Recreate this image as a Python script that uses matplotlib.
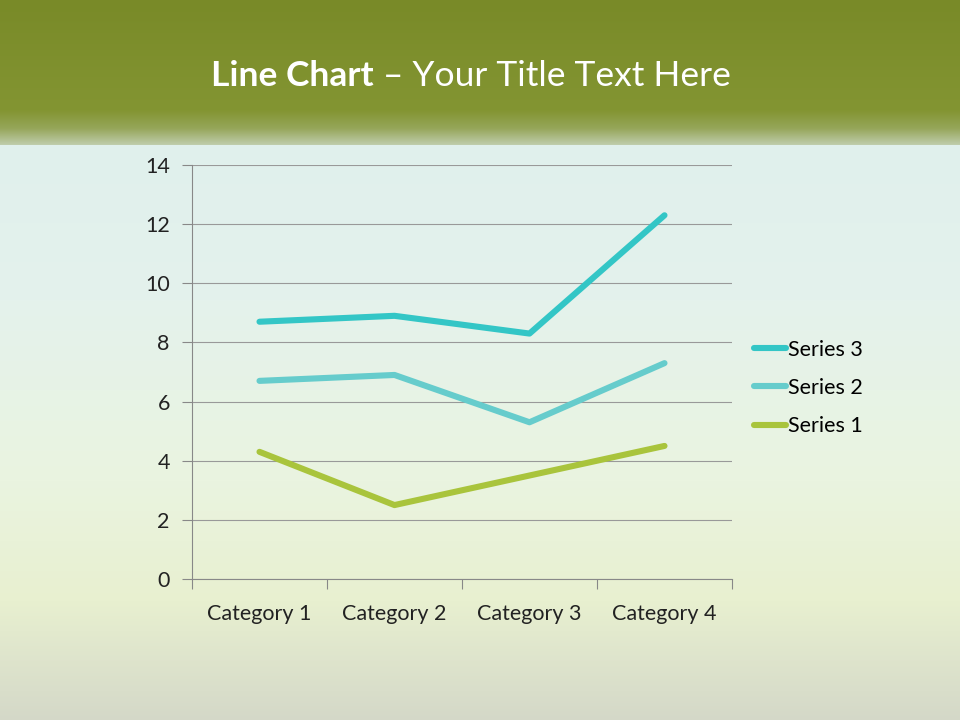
import numpy as np
import matplotlib
matplotlib.use("Agg")
import matplotlib.pyplot as plt

plt.rcParams['font.family'] = ['Lato', 'DejaVu Sans']

categories = ["Category 1", "Category 2", "Category 3", "Category 4"]
# raw series values; the chart is a stacked line chart
series_1 = [4.3, 2.5, 3.5, 4.5]
series_2 = [2.4, 4.4, 1.8, 2.8]
series_3 = [2.0, 2.0, 3.0, 5.0]
series_names = ["Series 1", "Series 2", "Series 3"]
series_colors = ["#a9c43c", "#66cccc", "#33c6c6"]

stacked = np.cumsum([series_1, series_2, series_3], axis=0)

W, H = 960, 720
fig = plt.figure(figsize=(W / 100, H / 100), dpi=100)

# background: olive header band fading into a pale cyan -> yellow-green body
ys = np.arange(H)
stops_y = [0, 110, 128, 144, 145, 300, 480, 600, 720]
stops_c = np.array([
    [121, 138, 40], [131, 149, 50], [150, 166, 90], [190, 204, 170],
    [224, 240, 236], [228, 242, 236], [234, 244, 224], [232, 240, 208],
    [212, 216, 200]]) / 255.0
col = np.stack([np.interp(ys, stops_y, stops_c[:, k]) for k in range(3)], axis=1)
bg = np.repeat(col[:, None, :], W, axis=1)
bg_ax = fig.add_axes([0, 0, 1, 1])
bg_ax.imshow(bg, aspect='auto', extent=(0, 1, 0, 1))
bg_ax.axis('off')

t1 = fig.text(211 / W, 1 - 76 / H, "Line Chart", color='white', fontsize=25.5,
              fontweight='bold', va='center', ha='left')
fig.canvas.draw()
bb = t1.get_window_extent()
fig.text(bb.x1 / W, 1 - 76 / H, " \u2013 Your Title Text Here", color='white',
         fontsize=25.5, va='center', ha='left')

ax = fig.add_axes([192 / W, 1 - 579 / H, 540 / W, 414 / H])
ax.patch.set_alpha(0)
x = np.arange(len(categories))
lines = []
for i in range(3):
    ln, = ax.plot(x, stacked[i], color=series_colors[i], lw=4.4,
                  solid_capstyle='round', solid_joinstyle='round', zorder=3)
    lines.append(ln)

ax.set_xlim(-0.5, 3.5)
ax.set_ylim(0, 14)
ax.set_yticks(range(0, 15, 2))
ax.set_xticks(x)
ax.set_xticklabels(categories)
ax.set_xticks(np.arange(-0.5, 4, 1), minor=True)
ax.tick_params(axis='x', which='major', length=0, pad=18, labelsize=15.5,
               labelcolor='#222222')
ax.tick_params(axis='x', which='minor', length=7, color='#888888', width=0.8)
ax.tick_params(axis='y', length=7, color='#888888', width=0.8, pad=9,
               labelsize=15.5, labelcolor='#222222')
ax.grid(axis='y', color='#999999', lw=0.8)
for s in ['top', 'right']:
    ax.spines[s].set_visible(False)
for s in ['left', 'bottom']:
    ax.spines[s].set_color('#888888')
    ax.spines[s].set_linewidth(0.8)

leg = ax.legend(lines[::-1], series_names[::-1], loc='center left',
                bbox_to_anchor=(735 / W, 1 - 388 / H),
                bbox_transform=fig.transFigure, frameon=False, fontsize=15.5,
                handlelength=1.45, handletextpad=0.1, labelspacing=0.85)

fig.savefig("out.png", dpi=100)
